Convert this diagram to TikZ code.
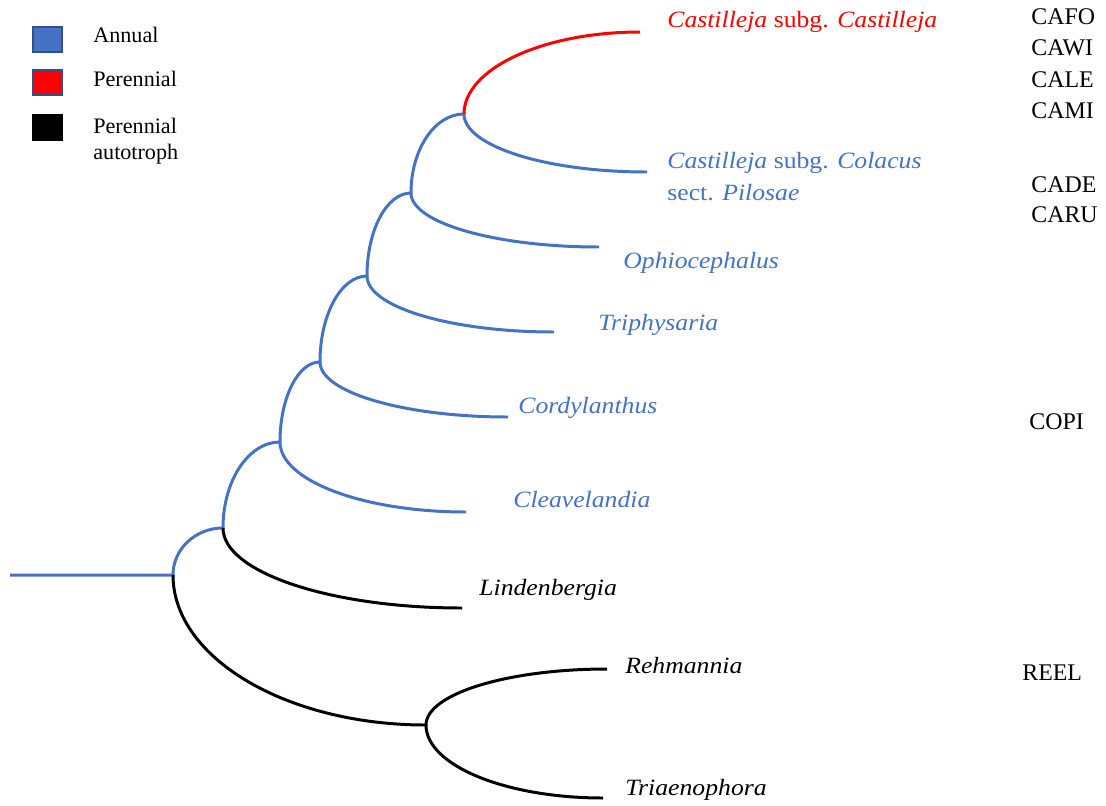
\documentclass[tikz,border=0pt]{standalone}
\usepackage{fontspec}
\setmainfont{Liberation Serif}
\newfontfamily\taxserif{Liberation Serif}[FakeStretch=1.1]
\usetikzlibrary{calc}
\definecolor{annual}{HTML}{4472C4}
\definecolor{annualedge}{HTML}{2F528F}
\definecolor{perennial}{HTML}{FF0000}
\begin{document}
\begin{tikzpicture}[x=0.02cm,y=-0.02cm,font=\fontsize{13.6}{17.6}\selectfont,
  branch/.style={line width=1.7pt},
  quart/.style={to path={.. controls ($(\tikztostart)!0.552!(\tikztostart|-\tikztotarget)$) and ($(\tikztotarget)!0.552!(\tikztostart|-\tikztotarget)$) .. (\tikztotarget)}},
  taxon/.style={anchor=base west,inner sep=0pt,font=\taxserif\fontsize{13.3}{17.8}\selectfont},
  code/.style={anchor=base west,inner sep=0pt},
  key/.style={anchor=base west,inner sep=0pt,font=\fontsize{12.6}{14.8}\selectfont},
  swatch/.style={minimum width=0.58cm,minimum height=0.5cm,inner sep=0pt,line width=1pt}]
  \useasboundingbox (0,0) rectangle (1106,805);
  \coordinate (root) at (10,575);
  \coordinate (n0) at (173,575);
  \coordinate (n1) at (223,528);
  \coordinate (n2) at (280,442);
  \coordinate (n3) at (320,362);
  \coordinate (n4) at (367,276);
  \coordinate (n5) at (411,193);
  \coordinate (n6) at (464,114);
  \coordinate (nr) at (426,725);
  \coordinate (lcas) at (640,32);
  \coordinate (lcol) at (647,172);
  \coordinate (loph) at (599,247);
  \coordinate (ltri) at (554,332);
  \coordinate (lcor) at (508,417);
  \coordinate (lcle) at (466,512);
  \coordinate (llin) at (462,608);
  \coordinate (lreh) at (607,669);
  \coordinate (ltria) at (603,798);
  \draw[branch,annual] (root) -- (n0) to[quart] (n1) to[quart] (n2) to[quart] (n3) to[quart] (n4) to[quart] (n5) to[quart] (n6);
  \draw[branch,annual] (n6) to[quart] (lcol);
  \draw[branch,annual] (n5) to[quart] (loph);
  \draw[branch,annual] (n4) to[quart] (ltri);
  \draw[branch,annual] (n3) to[quart] (lcor);
  \draw[branch,annual] (n2) to[quart] (lcle);
  \draw[branch,perennial] (n6) to[quart] (lcas);
  \draw[branch,black] (n1) to[quart] (llin);
  \draw[branch,black] (n0) to[quart] (nr);
  \draw[branch,black] (nr) to[quart] (lreh);
  \draw[branch,black] (nr) to[quart] (ltria);
  \node[taxon,text=perennial] (tcas) at (667,27) {\textit{Castilleja} subg. \textit{Castilleja}};
  \node[taxon,text=annual,align=left] (tcol) at (667,200) {\textit{Castilleja} subg. \textit{Colacus}\\sect. \textit{Pilosae}};
  \node[taxon,text=annual] (toph) at (623,268) {\textit{Ophiocephalus}};
  \node[taxon,text=annual] (ttri) at (598,330) {\textit{Triphysaria}};
  \node[taxon,text=annual] (tcor) at (518,413) {\textit{Cordylanthus}};
  \node[taxon,text=annual] (tcle) at (513,507) {\textit{Cleavelandia}};
  \node[taxon] (tlin) at (479,595) {\textit{Lindenbergia}};
  \node[taxon] (treh) at (625,673) {\textit{Rehmannia}};
  \node[taxon] (ttria) at (625,795) {\textit{Triaenophora}};
  \node[code] (cafo) at (1031,24) {CAFO};
  \node[code] (cawi) at (1031,55) {CAWI};
  \node[code] (cale) at (1031,87) {CALE};
  \node[code] (cami) at (1031,118) {CAMI};
  \node[code] (cade) at (1031,192) {CADE};
  \node[code] (caru) at (1031,222) {CARU};
  \node[code] (copi) at (1029,429) {COPI};
  \node[code] (reel) at (1022,680) {REEL};
  \node[swatch,fill=annual,draw=annualedge] (keyann) at (47.5,39.5) {};
  \node[swatch,fill=perennial,draw=annualedge] (keyper) at (47.5,82.5) {};
  \node[swatch,fill=black,draw=black] (keyaut) at (47.5,127.5) {};
  \node[key] (tann) at (93,42) {Annual};
  \node[key] (tper) at (93,86) {Perennial};
  \node[key,align=left] (taut) at (93,159) {Perennial\\autotroph};
\end{tikzpicture}
\end{document}
